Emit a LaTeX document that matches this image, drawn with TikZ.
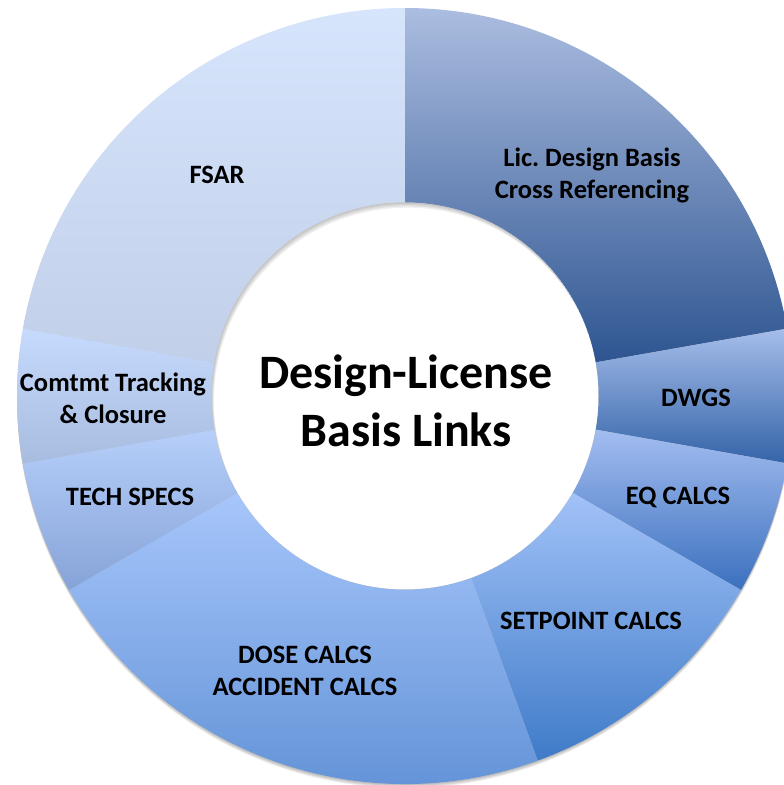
\documentclass[tikz,border=0pt]{standalone}
\usepackage{fontspec}
\setmainfont{Carlito}
\usetikzlibrary{calc}
\definecolor{FsarTop}{HTML}{D6E4FC}
\definecolor{FsarBot}{HTML}{C2CFE8}
\definecolor{LicTop}{HTML}{ABBDE0}
\definecolor{LicBot}{HTML}{2E5591}
\definecolor{DwgTop}{HTML}{A5BDEA}
\definecolor{DwgBot}{HTML}{3464A8}
\definecolor{EqTop}{HTML}{A3BDF0}
\definecolor{EqBot}{HTML}{3B70BE}
\definecolor{SetTop}{HTML}{A2C2F8}
\definecolor{SetBot}{HTML}{3F7BC8}
\definecolor{DoseTop}{HTML}{A7C6FB}
\definecolor{DoseBot}{HTML}{5B8DD3}
\definecolor{TechTop}{HTML}{B6CFFA}
\definecolor{TechBot}{HTML}{86A3D8}
\definecolor{ComTop}{HTML}{C6DAFD}
\definecolor{ComBot}{HTML}{A8BCE0}

\begin{document}
\frenchspacing
\begin{tikzpicture}[x=1pt,y=1pt,font=\bfseries\fontsize{26.5}{32}\selectfont]
  \useasboundingbox (0,0) rectangle (784,785);
  \clip (0,0) rectangle (784,785);
  \coordinate (c) at (405,389);
  % soft shadow under the ring
  \foreach \k in {1,2,3,4}
    \fill[black,opacity=0.07] ($(c)+(0,-\k)$) circle[radius=388];
  % ring slices: start/end angle, top/bottom colour
  \foreach \a/\b/\t/\u in {90/170/FsarTop/FsarBot,10/90/LicTop/LicBot,-10/10/DwgTop/DwgBot,
      -30/-10/EqTop/EqBot,-70/-30/SetTop/SetBot,210/290/DoseTop/DoseBot,
      190/210/TechTop/TechBot,170/190/ComTop/ComBot}
    \shade[top color=\t,bottom color=\u] ($(c)+(\a:388)$) arc[start angle=\a,end angle=\b,radius=388]
      -- ($(c)+(\b:193.5)$) arc[start angle=\b,end angle=\a,radius=193.5] -- cycle;
  % hole with inner shadow
  \fill[white] (c) circle[radius=193.5];
  \begin{scope}
    \clip (c) circle[radius=193.5];
    \foreach \k in {1,2,3,4}
      \fill[black,opacity=0.06,even odd rule] (c) circle[radius=193.5] ($(c)+(0.6*\k,-1.3*\k)$) circle[radius=193.5];
  \end{scope}
  % labels
  \node (fsar) at (217,610) {FSAR};
  \node[align=center] (lic) at (592,610) {Lic. Design Basis\\Cross Referencing};
  \node (dwgs) at (696,387) {DWGS};
  \node (eq) at (678,288) {EQ CALCS};
  \node (setpt) at (591,164) {SETPOINT CALCS};
  \node[align=center] (dose) at (305,114) {DOSE CALCS\\ACCIDENT CALCS};
  \node (tech) at (130,288) {TECH SPECS};
  \node[align=center] (comt) at (113,387) {Comtmt Tracking\\\& Closure};
  \node[align=center,font=\bfseries\fontsize{48}{58}\selectfont] (hub) at (406,384) {Design-License\\Basis Links};
\end{tikzpicture}
\end{document}
